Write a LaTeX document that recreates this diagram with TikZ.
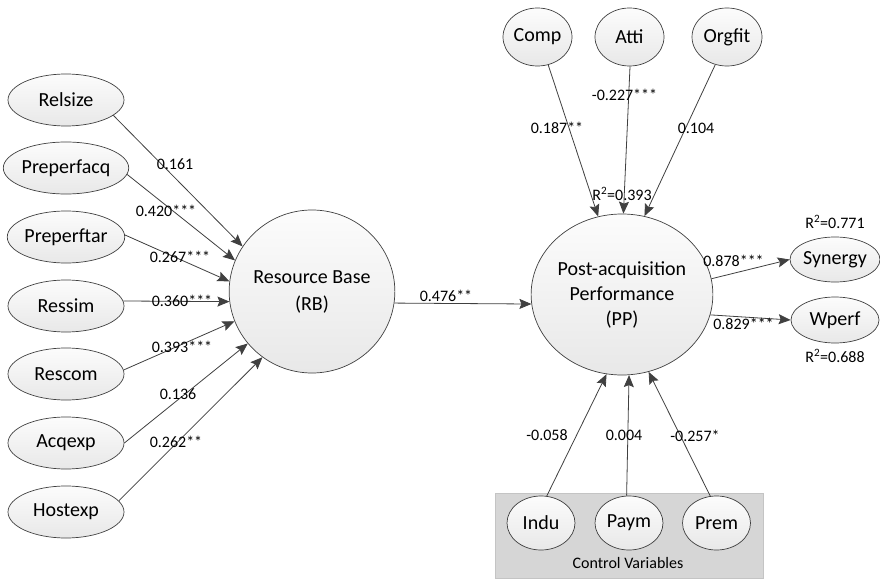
\documentclass[tikz,border=0pt]{standalone}
\usepackage{fontspec}
\setmainfont{Carlito}
\usetikzlibrary{shapes.geometric,arrows.meta}
\definecolor{linegray}{HTML}{404040}
\definecolor{fillhi}{HTML}{FCFCFC}
\definecolor{filllo}{HTML}{E8E8E8}
\definecolor{ctrlfill}{HTML}{D6D6D6}
\definecolor{ctrledge}{HTML}{C4C4C4}
\begin{document}
\begin{tikzpicture}[x=1pt,y=-1pt,
  latent/.style={ellipse, draw=linegray, line width=0.7pt,
    top color=fillhi, bottom color=filllo, inner sep=0pt,
    font=\fontsize{20}{26}\selectfont, align=center},
  indicator/.style={latent, minimum width=116pt, minimum height=52pt},
  smallvar/.style={latent, minimum width=69pt, minimum height=58pt},
  outvar/.style={latent, minimum width=88pt, minimum height=45pt},
  ctrlvar/.style={latent, minimum width=68pt, minimum height=54pt},
  lbl/.style={font=\fontsize{16}{18}\selectfont, inner sep=0pt, text=black},
  path/.style={draw=linegray, line width=0.8pt,
    -{Stealth[length=12pt,width=10pt,inset=2pt]}},
  ctrlbox/.style={rectangle, fill=ctrlfill, draw=ctrledge, line width=0.6pt,
    inner sep=0pt}
]
\useasboundingbox (0,0) rectangle (880,580);
\fill[white] (0,0) rectangle (880,580);

% control-variable panel
\node[ctrlbox, minimum width=268pt, minimum height=85pt] (ctrl) at (629,535.5) {};
\node[lbl] (ctrllabel) at (628,563) {Control Variables};

% antecedents of the resource base
\node[indicator] (relsize) at (66,100) {Relsize};
\node[indicator] (preacq)  at (66,168) {Preperfacq};
\node[indicator] (pretar)  at (66,237) {Preperftar};
\node[indicator] (ressim)  at (66,306) {Ressim};
\node[indicator] (rescom)  at (66,374) {Rescom};
\node[indicator] (acqexp)  at (66,443) {Acqexp};
\node[indicator] (hostexp) at (66,512) {Hostexp};

% central constructs
\node[latent, minimum width=150pt, minimum height=163pt,
      font=\fontsize{20}{27}\selectfont] (rb) at (312,291.5) {Resource Base\\(RB)};
\node[latent, minimum width=150pt, minimum height=161pt,
      font=\fontsize{20}{25}\selectfont] (pp) at (622,294.5) {Post-acquisition\\Performance\\(PP)};

% integration factors
\node[smallvar] (comp)   at (537.5,37) {Comp};
\node[smallvar] (atti)   at (629.5,37) {Atti};
\node[smallvar, minimum width=70pt] (orgfit) at (727,37) {Orgfit};

% performance indicators
\node[outvar] (synergy) at (835,259.5) {Synergy};
\node[outvar, minimum height=46pt] (wperf) at (835,320) {Wperf};

% control variables
\node[ctrlvar] (indu) at (541,523) {Indu};
\node[ctrlvar] (paym) at (629,523) {Paym};
\node[ctrlvar] (prem) at (716.5,523) {Prem};

% paths into RB
\draw[path] (relsize.-18) -- (rb.147.2);
\draw[path] (preacq.-6)   -- (rb.158.4);
\draw[path] (pretar.2)    -- (rb.173.7);
\draw[path] (ressim.5)    -- (rb.187.2);
\draw[path] (rescom.4)    -- (rb.201);
\draw[path] (acqexp.0)    -- (rb.219.2);
\draw[path] (hostexp.12)  -- (rb.233.2);

% RB to PP
\draw[path] (rb.-8.7) -- (pp.186.5);

% integration factors into PP
\draw[path] (comp.-69)   -- (pp.107.2);
\draw[path] (atti.-89)   -- (pp.89.3);
\draw[path] (orgfit.-113) -- (pp.74.2);

% PP to indicators
\draw[path] (pp.10.8) -- (synergy.180);
\draw[path] (pp.-13)  -- (wperf.180);

% controls into PP
\draw[path] (indu.78)  -- (pp.-101.6);
\draw[path] (paym.95)  -- (pp.-85);
\draw[path] (prem.103) -- (pp.-71);

% coefficients
\node[lbl] (c-relsize) at (175,164) {0.161};
\node[lbl] (c-preacq)  at (166,211) {0.420***};
\node[lbl] (c-pretar)  at (180,257) {0.267***};
\node[lbl] (c-ressim)  at (182,301) {0.360***};
\node[lbl] (c-rescom)  at (182,347) {0.393***};
\node[lbl] (c-acqexp)  at (178,394) {0.136};
\node[lbl] (c-hostexp) at (176,442) {0.262**};
\node[lbl] (c-rbpp)    at (446,296) {0.476**};
\node[lbl] (c-comp)    at (557,128) {0.187**};
\node[lbl] (c-atti)    at (624.5,95) {-0.227***};
\node[lbl] (c-orgfit)  at (696,128) {0.104};
\node[lbl] (c-syn)     at (733.5,261) {0.878***};
\node[lbl] (c-wperf)   at (743.5,324) {0.829***};
\node[lbl] (c-indu)    at (547,435.5) {-0.058};
\node[lbl] (c-paym)    at (624,435.5) {0.004};
\node[lbl] (c-prem)    at (695,435.5) {-0.257*};

% explained variance
\node[lbl] (r2-pp)  at (622,194) {R\textsuperscript{2}=0.393};
\node[lbl] (r2-syn) at (835,222) {R\textsuperscript{2}=0.771};
\node[lbl] (r2-wp)  at (835,356) {R\textsuperscript{2}=0.688};
\end{tikzpicture}
\end{document}
